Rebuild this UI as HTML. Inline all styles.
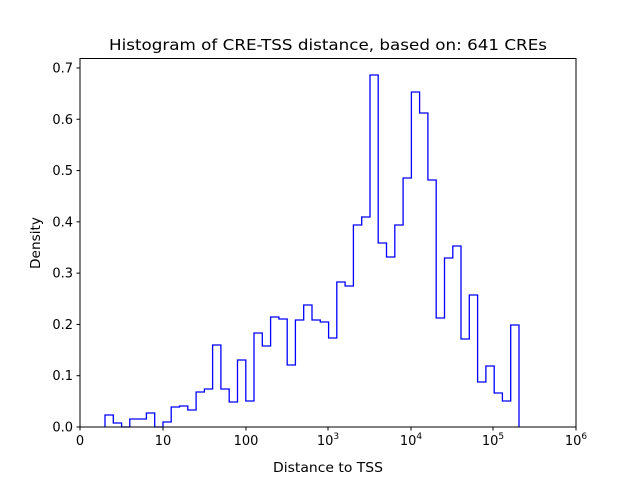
<!DOCTYPE html>
<html><head><meta charset="utf-8"><style>
body{margin:0;background:#fff}
svg text{font-family:"DejaVu Sans","Liberation Sans",sans-serif;fill:#000}
</style></head><body>
<svg id="s" width="640" height="480" xmlns="http://www.w3.org/2000/svg">
<rect width="640" height="480" fill="#fff"/>
<text x="328" y="50" font-size="15.5" text-anchor="middle" textLength="438" lengthAdjust="spacingAndGlyphs">Histogram of CRE-TSS distance, based on: 641 CREs</text>
<path id="h" fill="none" stroke="#0000ff" stroke-width="1.3" d=""/>
<rect x="80" y="58.5" width="496" height="368.5" fill="none" stroke="#000" stroke-width="1"/>
<g id="t" font-size="13"></g>
<text x="328" y="472" font-size="13" text-anchor="middle" textLength="110" lengthAdjust="spacingAndGlyphs">Distance to TSS</text>
<text transform="translate(40,243) rotate(-90)" font-size="13" text-anchor="middle" textLength="52" lengthAdjust="spacingAndGlyphs">Density</text>
</svg>
<script>
var ys=[415,423,427,419,419,413,427,422,407,406,410,392,389,345,389,402,360,401,333,346,317,319,365,320,305,320,322,338,282,286,225,217,75,243,257,225,178,92,113,180,318,258,246,339,295,382,366,393,401,325];
var d="M105,427";var step=(519-105)/50;
for(var i=0;i<ys.length;i++){var x0=105+i*step,x1=x0+step;d+=" L"+x0.toFixed(1)+","+ys[i]+" L"+x1.toFixed(1)+","+ys[i];}
d+=" L519,427";
document.getElementById("h").setAttribute("d",d);
var g=document.getElementById("t"),s="";
var xs=[80,163,246,328,411,493,576],lb=["0","10","100","10<tspan font-size='9' dy='-6'>3</tspan>","10<tspan font-size='9' dy='-6'>4</tspan>","10<tspan font-size='9' dy='-6'>5</tspan>","10<tspan font-size='9' dy='-6'>6</tspan>"];
for(var i=0;i<7;i++){s+="<line x1='"+xs[i]+"' x2='"+xs[i]+"' y1='427' y2='430.5' stroke='#000'/>";s+="<text x='"+xs[i]+"' y='445' text-anchor='middle'>"+lb[i]+"</text>";}
for(var v=0;v<=7;v++){var y=427-v*0.1*512.9;s+="<line x1='76.5' x2='80' y1='"+y+"' y2='"+y+"' stroke='#000'/>";s+="<text x='73' y='"+(y+4.5)+"' text-anchor='end'>"+(v/10).toFixed(1)+"</text>";}
g.innerHTML=s;
</script>
</body></html>
